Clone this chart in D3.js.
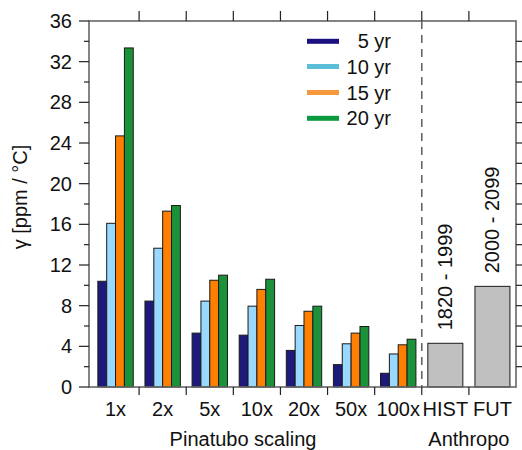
<!DOCTYPE html>
<html>
<head>
<meta charset="utf-8">
<script src="https://cdn.jsdelivr.net/npm/d3@7/dist/d3.min.js"></script>
<style>
  html, body { margin: 0; padding: 0; background: #fff; }
  svg { display: block; }
  text { font-family: "Liberation Sans", Arial, sans-serif; fill: #111; }
</style>
</head>
<body>
<svg id="chart" width="522" height="450"></svg>
<script>
// ---- data ----
const categories = ["1x", "2x", "5x", "10x", "20x", "50x", "100x"];
const seriesNames = ["5 yr", "10 yr", "15 yr", "20 yr"];
const values5  = [10.4, 8.45, 5.3, 5.1, 3.6, 2.2, 1.35];
const values10 = [16.1, 13.65, 8.45, 7.95, 6.05, 4.25, 3.25];
const values15 = [24.7, 17.3, 10.5, 9.6, 7.45, 5.3, 4.15];
const values20 = [33.35, 17.85, 11.0, 10.6, 7.95, 5.95, 4.7];
const anthroCats = ["HIST", "FUT"];
const anthroValues = [4.3, 9.9];
const anthroLabels = ["1820 - 1999", "2000 - 2099"];
const yTicks = [0, 4, 8, 12, 16, 20, 24, 28, 32, 36];

const barColors = ["#1e1a7a", "#99d8ff", "#ff8000", "#1b9139"];
const legendColors = ["#1a1080", "#5bbfd8", "#f59a3c", "#0c9a3e"];

// ---- layout ----
const svg = d3.select("#chart");
const L = 89, R = 516, T = 21, B = 387;
const allCats = categories.concat(anthroCats);

const x = d3.scaleBand().domain(allCats).range([92, R]);
const y = d3.scaleLinear().domain([0, 36]).range([B, T]);
const groupW = 35.4;
const xs = d3.scaleBand().domain(seriesNames).range([0, groupW]);

const seriesValues = [values5, values10, values15, values20];

// bars
const g = svg.append("g");
seriesValues.forEach((vals, si) => {
  g.selectAll(null).data(categories.map((c, i) => ({c, v: vals[i]})))
    .enter().append("rect")
    .attr("x", d => x(d.c) + x.bandwidth() / 2 - groupW / 2 + xs(seriesNames[si]))
    .attr("y", d => y(d.v))
    .attr("width", xs.bandwidth())
    .attr("height", d => y(0) - y(d.v))
    .attr("fill", barColors[si])
    .attr("stroke", "#1a1a1a")
    .attr("stroke-width", 1);
});

// anthropogenic bars
const aw = 35;
g.selectAll(null).data(anthroCats.map((c, i) => ({c, v: anthroValues[i], l: anthroLabels[i]})))
  .enter().append("rect")
  .attr("x", d => x(d.c) + x.bandwidth() / 2 - aw / 2)
  .attr("y", d => y(d.v))
  .attr("width", aw)
  .attr("height", d => y(0) - y(d.v))
  .attr("fill", "#c0c0c0")
  .attr("stroke", "#1a1a1a")
  .attr("stroke-width", 1);

// rotated labels above anthro bars
g.selectAll(null).data(anthroCats.map((c, i) => ({c, v: anthroValues[i], l: anthroLabels[i]})))
  .enter().append("text")
  .attr("transform", d => `translate(${x(d.c) + x.bandwidth() / 2 + 7},${y(d.v) - 13}) rotate(-90)`)
  .attr("font-size", 20)
  .attr("text-anchor", "start")
  .text(d => d.l);

// dashed separator
svg.append("line")
  .attr("x1", x("HIST")).attr("x2", x("HIST"))
  .attr("y1", T).attr("y2", B)
  .attr("stroke", "#666").attr("stroke-width", 1.6)
  .attr("stroke-dasharray", "8,6");

// frame
svg.append("rect")
  .attr("x", L).attr("y", T).attr("width", R - L).attr("height", B - T)
  .attr("fill", "none").attr("stroke", "#666").attr("stroke-width", 1.6);

// left axis ticks
const minorTicks = d3.range(2, 36, 4);
svg.selectAll(null).data(yTicks).enter().append("line")
  .attr("x1", L - 10).attr("x2", L).attr("y1", d => y(d)).attr("y2", d => y(d))
  .attr("stroke", "#222").attr("stroke-width", 1.2);
svg.selectAll(null).data(minorTicks).enter().append("line")
  .attr("x1", L - 5).attr("x2", L).attr("y1", d => y(d)).attr("y2", d => y(d))
  .attr("stroke", "#222").attr("stroke-width", 1.2);
svg.selectAll(null).data(yTicks).enter().append("text")
  .attr("x", 72).attr("y", d => y(d) + 7)
  .attr("text-anchor", "end").attr("font-size", 20)
  .text(d => d);

// right axis ticks
svg.selectAll(null).data(d3.range(2, 36, 2)).enter().append("line")
  .attr("x1", R).attr("x2", R + 6).attr("y1", d => y(d)).attr("y2", d => y(d))
  .attr("stroke", "#222").attr("stroke-width", 1.2);

// top/bottom ticks at category boundaries
const bounds = allCats.slice(1).map(c => x(c));
svg.selectAll(null).data(bounds).enter().append("line")
  .attr("x1", d => d).attr("x2", d => d).attr("y1", T - 10).attr("y2", T)
  .attr("stroke", "#222").attr("stroke-width", 1.2);
svg.selectAll(null).data(bounds).enter().append("line")
  .attr("x1", d => d).attr("x2", d => d).attr("y1", B).attr("y2", B + 8)
  .attr("stroke", "#222").attr("stroke-width", 1.2);

// x tick labels
svg.selectAll(null).data(allCats).enter().append("text")
  .attr("x", d => x(d) + x.bandwidth() / 2).attr("y", 416)
  .attr("text-anchor", "middle").attr("font-size", 20)
  .text(d => d);

// group labels
svg.append("text").attr("x", 243).attr("y", 446)
  .attr("text-anchor", "middle").attr("font-size", 20).text("Pinatubo scaling");
svg.append("text").attr("x", (x("HIST") + R) / 2).attr("y", 446)
  .attr("text-anchor", "middle").attr("font-size", 20).text("Anthropo");

// y label
svg.append("text")
  .attr("transform", "translate(27,197) rotate(-90)")
  .attr("text-anchor", "middle").attr("font-size", 20)
  .text("γ [ppm / °C]");

// legend
const legY = [41.3, 66.5, 92.5, 118.3];
seriesNames.forEach((s, i) => {
  svg.append("line")
    .attr("x1", 307).attr("x2", 339).attr("y1", legY[i]).attr("y2", legY[i])
    .attr("stroke", legendColors[i]).attr("stroke-width", 5);
  svg.append("text")
    .attr("x", 391).attr("y", legY[i] + 7)
    .attr("text-anchor", "end").attr("font-size", 20)
    .text(s);
});
</script>
</body>
</html>
